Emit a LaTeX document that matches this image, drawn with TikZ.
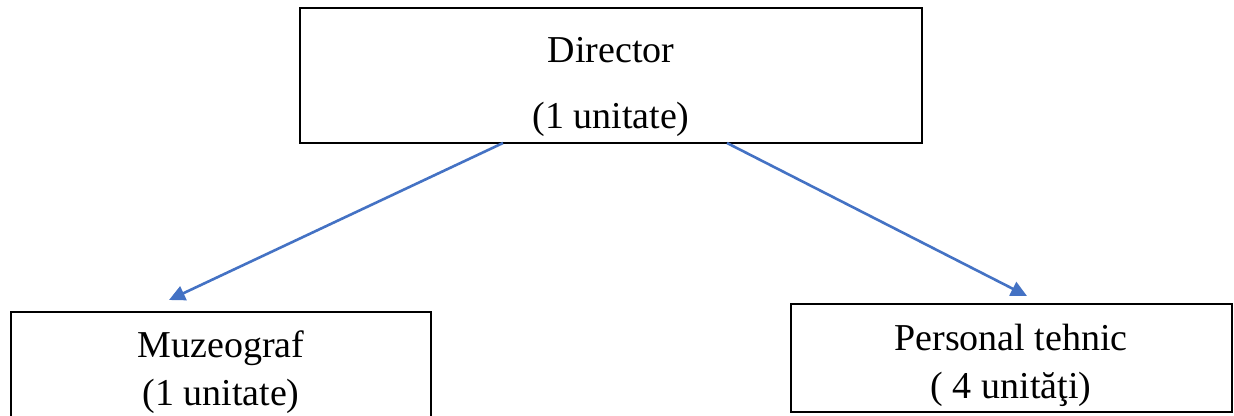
\documentclass[tikz,border=0pt]{standalone}
\usepackage{fontspec}
\setmainfont{Liberation Serif}
\usetikzlibrary{arrows.meta}
\definecolor{arrblue}{RGB}{68,114,196}
\tikzset{
  box/.style={draw=black, line width=1.3pt, inner sep=0pt, outer sep=0pt},
  lbl/.style={anchor=base, inner sep=0pt, font=\fontsize{38}{44}\selectfont},
  arr/.style={draw=arrblue, line width=2.6pt, -{Triangle[length=16pt,width=15pt]}}
}
\begin{document}
\begin{tikzpicture}[x=1pt,y=-1pt]
\useasboundingbox[fill=white] (0,0) rectangle (1234,415);
% boxes
\node[box, minimum width=622pt, minimum height=135pt] (dir) at (611,75.5) {};
\node[box, minimum width=420pt, minimum height=120pt] (muz) at (221,372) {};
\node[box, minimum width=441pt, minimum height=108pt] (pers) at (1011.5,358) {};
% texts
\node[lbl] (dirA) at (611,62) {Director};
\node[lbl] (dirB) at (611,128) {(1 unitate)};
\node[lbl] (muzA) at (221,357) {Muzeograf};
\node[lbl] (muzB) at (221,405) {(1 unitate)};
\node[lbl] (persA) at (1011,350) {Personal tehnic};
\node[lbl] (persB) at (1011,398) {( 4 unităţi)};
% connectors
\coordinate (s1) at (503,143);
\coordinate (t1) at (169,300);
\coordinate (s2) at (727,143);
\coordinate (t2) at (1027,296);
\draw[arr] (s1) -- (t1);
\draw[arr] (s2) -- (t2);
\end{tikzpicture}
\end{document}
